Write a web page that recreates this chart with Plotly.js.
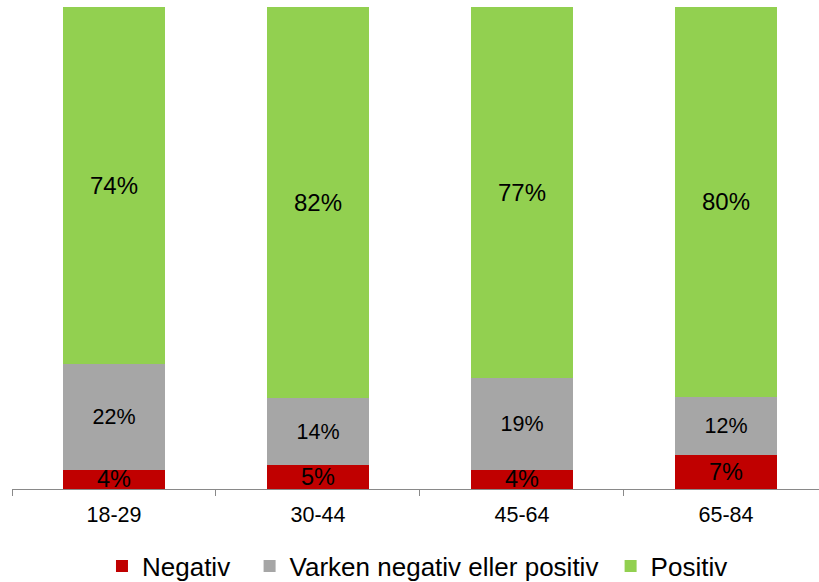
<!DOCTYPE html>
<html><head><meta charset="utf-8">
<script src="https://cdn.plot.ly/plotly-3.0.1.min.js"></script>
<style>html,body{margin:0;padding:0;overflow:hidden;background:#fff}</style>
</head><body><div id="chart" style="width:819px;height:582px"></div>
<script>
const categories = ["18-29", "30-44", "45-64", "65-84"];
const negativ = [4, 5, 4, 7];
const varken = [22, 14, 19, 12];
const positiv = [74, 82, 77, 80];
const seriesNames = ["Negativ", "Varken negativ eller positiv", "Positiv"];
const legendPad = ["\u00a0\u00a0", "\u00a0", ""];
const colors = ["#C00000", "#A6A6A6", "#92D050"];
const labelSizes = [23.5, 21.5, 24];

const FONT = "Liberation Sans, Arial, sans-serif";
const series = [negativ, varken, positiv];
const traces = series.map((vals, i) => ({
  type: "bar",
  name: seriesNames[i] + legendPad[i],
  x: categories,
  y: vals,
  text: vals.map(v => v + "%"),
  textposition: "inside",
  insidetextanchor: "middle",
  constraintext: "none",
  cliponaxis: false,
  textfont: {family: FONT, size: labelSizes[i], color: "#000"},
  marker: {color: colors[i], line: {width: 0}},
  hoverinfo: "skip"
}));

const layout = {
  width: 819, height: 582,
  margin: {l: 12, r: 0, t: 7, b: 93, autoexpand: false},
  barmode: "stack",
  barnorm: "percent",
  bargap: 0.5,
  paper_bgcolor: "#fff",
  plot_bgcolor: "#fff",
  font: {family: FONT, color: "#000"},
  showlegend: true,
  legend: {
    orientation: "h",
    x: 0.1115, xanchor: "left",
    y: -0.16, yanchor: "middle",
    font: {family: FONT, size: 26, color: "#000"},
    traceorder: "normal",
    itemclick: false
  },
  xaxis: {
    type: "category",
    range: [-0.5, 3.456],
    showline: true, linecolor: "#898989", linewidth: 1,
    ticks: "outside", tickson: "boundaries", ticklen: 6, tickcolor: "#898989",
    ticklabelstandoff: 6,
    tickfont: {family: FONT, size: 21.5, color: "#000"},
    showgrid: false, zeroline: false, fixedrange: true
  },
  yaxis: {
    range: [0, 100.01],
    visible: false, showgrid: false, zeroline: false, fixedrange: true
  }
};

Plotly.newPlot("chart", traces, layout, {displayModeBar: false, staticPlot: true});
</script></body></html>
